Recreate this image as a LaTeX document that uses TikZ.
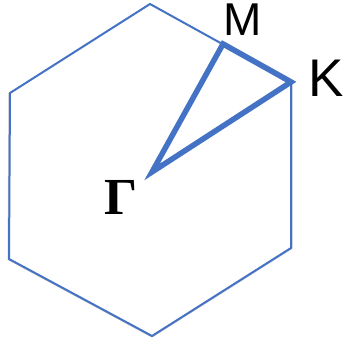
\documentclass[tikz,border=0pt]{standalone}
\usepackage{fontspec}
\newfontfamily\labelfont{Liberation Sans}
\newfontfamily\gammafont{Liberation Serif}
\usetikzlibrary{shapes.geometric}
\usetikzlibrary{arrows.meta}

\begin{document}
\begin{tikzpicture}[x=1pt, y=-1pt]
    \useasboundingbox (0,0) rectangle (345,344);

    % corners of the zone
    \coordinate (cnTop) at (150,4);
    \coordinate (cnUpRight) at (291,82);
    \coordinate (cnLowRight) at (291,248);
    \coordinate (cnBottom) at (152,336);
    \coordinate (cnLowLeft) at (9,259);
    \coordinate (cnUpLeft) at (10,93);
    \coordinate (cnGamma) at (152,172);
    \coordinate (cnM) at (223,44);
    \coordinate (cnK) at (291,82);

    % soft shadow
    \draw[draw={rgb,255:red,120;green,110;blue,110}, opacity=0.3, line width=3pt, line join=round, shift={(1,3)}] (cnUpLeft) -- (cnLowLeft) -- (cnBottom) -- (cnLowRight) -- (cnUpRight);
    \draw[draw={rgb,255:red,120;green,110;blue,110}, opacity=0.3, line width=6pt, line join=round, shift={(1,3)}] (cnGamma) -- (cnM) -- (cnK) -- cycle;

    \draw[draw={rgb,255:red,68;green,114;blue,196}, fill={rgb,255:red,255;green,255;blue,255}, line width=2pt, line join=miter] (cnTop) -- (cnUpRight) -- (cnLowRight) -- (cnBottom) -- (cnLowLeft) -- (cnUpLeft) -- cycle;
    \draw[draw={rgb,255:red,68;green,114;blue,196}, line width=5.5pt, line join=miter] (cnGamma) -- (cnM) -- (cnK) -- cycle;

    \node[text={rgb,255:red,0;green,0;blue,0}, inner sep=0pt, anchor=base] (ndM) at (243,36) {\labelfont\fontsize{46}{46}\selectfont M};
    \node[text={rgb,255:red,0;green,0;blue,0}, inner sep=0pt, anchor=base] (ndK) at (326,97) {\labelfont\fontsize{53}{53}\selectfont K};
    \node[text={rgb,255:red,0;green,0;blue,0}, inner sep=0pt, anchor=base] (ndGamma) at (121,215) {\gammafont\bfseries\fontsize{52}{52}\selectfont Γ};
\end{tikzpicture}
\end{document}
